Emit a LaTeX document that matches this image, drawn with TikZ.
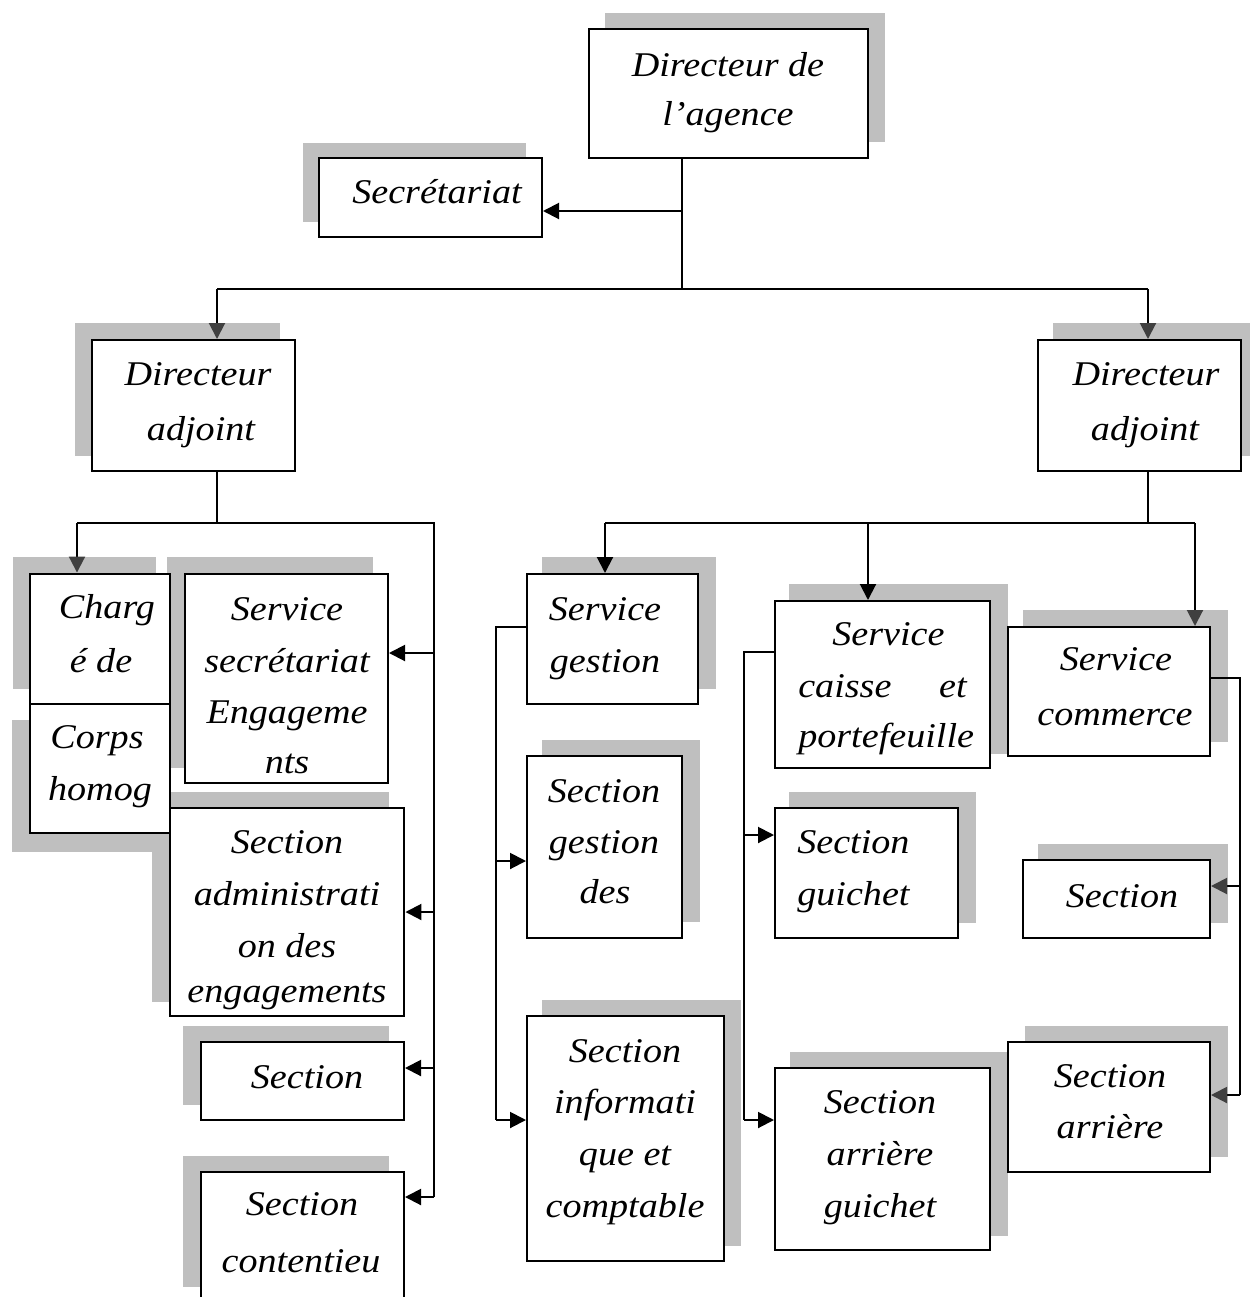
\documentclass[tikz,border=0pt]{standalone}
\usepackage{fontspec}
\setmainfont{Liberation Serif}
\newfontfamily\orgfont[FakeStretch=1.10]{Liberation Serif}
\usetikzlibrary{arrows.meta,fit}
\definecolor{shd}{HTML}{BFBFBF}
\definecolor{dgray}{HTML}{404040}
\begin{document}
\begin{tikzpicture}[x=0.75pt,y=-0.75pt,
  box/.style={draw=black,line width=1.5pt,fill=white,inner sep=0pt,rectangle},
  boxb/.style={box,line width=2.2pt},
  txt/.style={inner sep=0pt,anchor=base,font=\orgfont\fontsize{26}{30}\selectfont\itshape},
  txtl/.style={txt,anchor=base west},
  txtr/.style={txt,anchor=base east},
  wire/.style={line width=1.5pt,draw=black},
  arr/.style={wire,-{Triangle[length=12pt,width=12pt]}},
  garr/.style={wire,-{Triangle[length=12pt,width=12pt,color=dgray]}}]
\useasboundingbox (0,0) rectangle (1250,1297);
% shadows
\fill[shd] (605,13) rectangle (885,142);
\fill[shd] (303,143) rectangle (526,222);
\fill[shd] (75,323) rectangle (280,456);
\fill[shd] (1053,323) rectangle (1250,456);
\fill[shd] (13,557) rectangle (156,689);
\fill[shd] (12,720) rectangle (156,852);
\fill[shd] (167,557) rectangle (373,768);
\fill[shd] (152,792) rectangle (389,1002);
\fill[shd] (183,1026) rectangle (389,1105);
\fill[shd] (183,1156) rectangle (389,1287);
\fill[shd] (542,557) rectangle (716,689);
\fill[shd] (542,740) rectangle (700,922);
\fill[shd] (542,1000) rectangle (741,1246);
\fill[shd] (789,584) rectangle (1008,754);
\fill[shd] (1023,610) rectangle (1228,742);
\fill[shd] (789,792) rectangle (976,923);
\fill[shd] (1038,844) rectangle (1228,923);
\fill[shd] (790,1052) rectangle (1008,1236);
\fill[shd] (1025,1026) rectangle (1228,1157);
% boxes
\node[box,fit={(589,29)(868,158)}] (dir) {};
\node[box,fit={(319,158)(542,237)}] (sec) {};
\node[box,fit={(92,340)(295,471)}] (da1) {};
\node[box,fit={(1038,340)(1241,471)}] (da2) {};
\node[boxb,fit={(30,574)(170,704)}] (charge) {};
\node[boxb,fit={(30,704)(170,833)}] (corps) {};
\node[box,fit={(185,574)(388,783)}] (servsec) {};
\node[boxb,fit={(170,808)(404,1016)}] (admin) {};
\node[box,fit={(201,1042)(404,1120)}] (sec3) {};
\node[box,fit={(201,1172)(404,1320)}] (cont) {};
\node[box,fit={(527,574)(698,704)}] (sgest) {};
\node[box,fit={(527,756)(682,938)}] (secgd) {};
\node[box,fit={(527,1016)(724,1261)}] (secinfo) {};
\node[box,fit={(775,601)(990,768)}] (scaisse) {};
\node[box,fit={(1008,627)(1210,756)}] (scom) {};
\node[box,fit={(775,808)(958,938)}] (secg) {};
\node[box,fit={(1023,860)(1210,938)}] (secr) {};
\node[box,fit={(775,1068)(990,1250)}] (secag) {};
\node[box,fit={(1008,1042)(1210,1172)}] (secar) {};
% texts
\node[txt] (t1a) at (728,76) {Directeur de};
\node[txt] (t1b) at (728,125) {l’agence};
\node[txt] (t2) at (437,203) {Secrétariat};
\node[txt] (t3a) at (198,385) {Directeur};
\node[txt] (t3b) at (201,440) {adjoint};
\node[txt] (t4a) at (1146,385) {Directeur};
\node[txt] (t4b) at (1145,440) {adjoint};
\node[txt] (t5a) at (107,618) {Charg};
\node[txt] (t5b) at (101,672) {é de};
\node[txt] (t6a) at (97,748) {Corps};
\node[txt] (t6b) at (100,800) {homog};
\node[txt] (t7a) at (287,620) {Service};
\node[txt] (t7b) at (287,672) {secrétariat};
\node[txt] (t7c) at (287,723) {Engageme};
\node[txt] (t7d) at (287,773) {nts};
\node[txt] (t8a) at (287,853) {Section};
\node[txt] (t8b) at (287,905) {administrati};
\node[txt] (t8c) at (287,957) {on des};
\node[txt] (t8d) at (287,1002) {engagements};
\node[txt] (t9) at (307,1088) {Section};
\node[txt] (t10a) at (302,1215) {Section};
\node[txt] (t10b) at (301,1272) {contentieu};
\node[txt] (t11a) at (605,620) {Service};
\node[txt] (t11b) at (605,672) {gestion};
\node[txt] (t12a) at (604,802) {Section};
\node[txt] (t12b) at (604,853) {gestion};
\node[txt] (t12c) at (605,903) {des};
\node[txt] (t13a) at (625,1062) {Section};
\node[txt] (t13b) at (625,1113) {informati};
\node[txt] (t13c) at (625,1165) {que et};
\node[txt] (t13d) at (625,1217) {comptable};
\node[txtl] (t14a) at (832,645) {Service};
\node[txtl] (t14b) at (798,697) {caisse};
\node[txtr] (t14c) at (967,697) {et};
\node[txtl] (t14d) at (798,747) {portefeuille};
\node[txt] (t15a) at (1116,670) {Service};
\node[txt] (t15b) at (1115,725) {commerce};
\node[txtl] (t16a) at (797,853) {Section};
\node[txtl] (t16b) at (797,905) {guichet};
\node[txt] (t17) at (1122,907) {Section};
\node[txt] (t18a) at (880,1113) {Section};
\node[txt] (t18b) at (880,1165) {arrière};
\node[txt] (t18c) at (880,1217) {guichet};
\node[txt] (t19a) at (1110,1087) {Section};
\node[txt] (t19b) at (1110,1138) {arrière};
% junction coordinates
\coordinate (j1) at (682,289);
\coordinate (j2) at (682,211);
\coordinate (c1) at (217,289);
\coordinate (c2) at (1148,289);
\coordinate (l0) at (77,523);
\coordinate (l1) at (217,523);
\coordinate (l2) at (434,523);
\coordinate (la) at (434,653);
\coordinate (lb) at (434,912);
\coordinate (lc) at (434,1068);
\coordinate (l3) at (434,1197);
\coordinate (r0) at (605,523);
\coordinate (r1) at (1148,523);
\coordinate (rm) at (868,523);
\coordinate (r2) at (1195,523);
\coordinate (g0) at (496,627);
\coordinate (ga) at (496,861);
\coordinate (g1) at (496,1120);
\coordinate (k0) at (744,652);
\coordinate (ka) at (744,835);
\coordinate (k1) at (744,1120);
\coordinate (m0) at (1240,678);
\coordinate (ma) at (1240,886);
\coordinate (m1) at (1240,1095);
% connectors
\draw[wire] (dir.south -| j1) -- (j1);
\draw[arr] (j2) -- (j2 -| sec.east);
\draw[wire] (c1) -- (c2);
\draw[garr] (c1) -- (c1 |- da1.north);
\draw[garr] (c2) -- (c2 |- da2.north);
\draw[wire] (l1 |- da1.south) -- (l1);
\draw[wire] (l0) -- (l2) -- (l3);
\draw[garr] (l0) -- (l0 |- charge.north);
\draw[arr] (la) -- (la -| servsec.east);
\draw[arr] (lb) -- (lb -| admin.east);
\draw[arr] (lc) -- (lc -| sec3.east);
\draw[arr] (l3) -- (l3 -| cont.east);
\draw[wire] (r1 |- da2.south) -- (r1);
\draw[wire] (r0) -- (r2);
\draw[arr] (r0) -- (r0 |- sgest.north);
\draw[arr] (rm) -- (rm |- scaisse.north);
\draw[garr] (r2) -- (r2 |- scom.north);
\draw[wire] (g0 -| sgest.west) -- (g0) -- (g1);
\draw[arr] (ga) -- (ga -| secgd.west);
\draw[arr] (g1) -- (g1 -| secinfo.west);
\draw[wire] (k0 -| scaisse.west) -- (k0) -- (k1);
\draw[arr] (ka) -- (ka -| secg.west);
\draw[arr] (k1) -- (k1 -| secag.west);
\draw[wire] (m0 -| scom.east) -- (m0) -- (m1);
\draw[garr] (ma) -- (ma -| secr.east);
\draw[garr] (m1) -- (m1 -| secar.east);
\end{tikzpicture}
\end{document}
